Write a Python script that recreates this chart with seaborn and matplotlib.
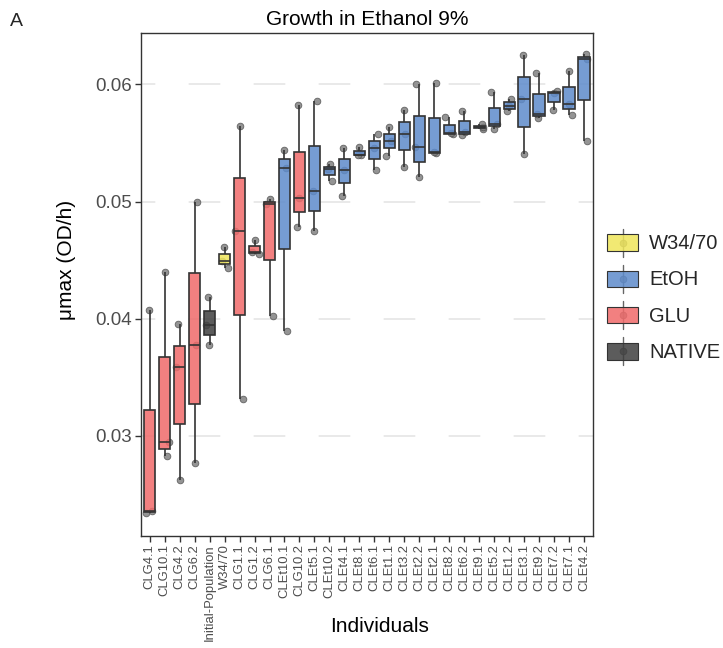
import numpy as np
import pandas as pd
import matplotlib
matplotlib.use("Agg")
import matplotlib.pyplot as plt
from matplotlib.legend_handler import HandlerBase
from matplotlib.patches import Rectangle, Patch
from matplotlib.lines import Line2D
import seaborn as sns

# Individuals in plotting order, with the population each one comes from
individuals = [
    "CLG4.1", "CLG10.1", "CLG4.2", "CLG6.2", "Initial-Population", "W34/70",
    "CLG1.1", "CLG1.2", "CLG6.1", "CLEt10.1", "CLG10.2", "CLEt5.1",
    "CLEt10.2", "CLEt4.1", "CLEt8.1", "CLEt6.1", "CLEt1.1", "CLEt3.2",
    "CLEt2.2", "CLEt2.1", "CLEt8.2", "CLEt6.2", "CLEt9.1", "CLEt5.2",
    "CLEt1.2", "CLEt3.1", "CLEt9.2", "CLEt7.2", "CLEt7.1", "CLEt4.2",
]
groups = [
    "GLU", "GLU", "GLU", "GLU", "NATIVE", "W34/70",
    "GLU", "GLU", "GLU", "EtOH", "GLU", "EtOH",
    "EtOH", "EtOH", "EtOH", "EtOH", "EtOH", "EtOH",
    "EtOH", "EtOH", "EtOH", "EtOH", "EtOH", "EtOH",
    "EtOH", "EtOH", "EtOH", "EtOH", "EtOH", "EtOH",
]

# Maximum growth rate (OD/h) of the three replicate cultures
rep_1 = [0.02345, 0.02826, 0.02621, 0.02766, 0.03778, 0.04435,
         0.03312, 0.04552, 0.04020, 0.03898, 0.04785, 0.04748,
         0.05175, 0.05044, 0.05397, 0.05270, 0.05390, 0.05294,
         0.05209, 0.05414, 0.05573, 0.05565, 0.05616, 0.05621,
         0.05770, 0.05403, 0.05710, 0.05781, 0.05741, 0.05519]
rep_2 = [0.02362, 0.02945, 0.03585, 0.03778, 0.03950, 0.04490,
         0.04751, 0.04572, 0.04980, 0.05285, 0.05030, 0.05090,
         0.05275, 0.05270, 0.05400, 0.05460, 0.05519, 0.05580,
         0.05462, 0.05420, 0.05587, 0.05592, 0.05636, 0.05661,
         0.05817, 0.05872, 0.05747, 0.05923, 0.05830, 0.06213]
rep_3 = [0.04074, 0.04396, 0.03952, 0.04998, 0.04182, 0.04612,
         0.05647, 0.04671, 0.05020, 0.05439, 0.05821, 0.05858,
         0.05320, 0.05454, 0.05468, 0.05578, 0.05636, 0.05778,
         0.06003, 0.06009, 0.05718, 0.05776, 0.05659, 0.05932,
         0.05877, 0.06247, 0.06094, 0.05945, 0.06116, 0.06256]

group_order = ["W34/70", "EtOH", "GLU", "NATIVE"]
group_colors = {"W34/70": "#EFE65A", "EtOH": "#5E8BCB",
                "GLU": "#F06A6A", "NATIVE": "#3F3F3F"}
y_ticks = [0.03, 0.04, 0.05, 0.06]

wide = pd.DataFrame({"Individual": individuals, "Group": groups,
                     "r1": rep_1, "r2": rep_2, "r3": rep_3})
df = wide.melt(id_vars=["Individual", "Group"], value_name="umax")

sns.set_theme(style="white")
plt.rcParams["font.family"] = ["Liberation Sans", "DejaVu Sans"]
plt.rcParams["lines.scale_dashes"] = False

W, H = 723, 648
fig = plt.figure(figsize=(W / 100, H / 100), dpi=100)
left, right, top, bottom = 140.7, 593.0, 33.0, 535.7
ax = fig.add_axes([left / W, 1 - bottom / H, (right - left) / W, (bottom - top) / H])

# replicate points sit underneath the translucent boxes
np.random.seed(7)
sns.stripplot(data=df, x="Individual", y="umax", order=individuals,
              color="#7a7a7a", size=4.8, jitter=0.3, alpha=0.8,
              edgecolor="#4d4d4d", linewidth=0.6, zorder=1.5, ax=ax)
sns.boxplot(data=df, x="Individual", y="umax", order=individuals,
            hue="Group", hue_order=group_order, palette=group_colors,
            saturation=1, dodge=False, width=0.75, linecolor="#333333",
            linewidth=1.2, showfliers=False, showcaps=False, legend=False,
            ax=ax)
for p in ax.patches:
    fc = p.get_facecolor()
    p.set_facecolor((fc[0], fc[1], fc[2], 0.85))
    p.set_zorder(2)

ax.set_xlim(-0.6, len(individuals) - 0.4)
ax.set_ylim(0.02148, 0.06438)
ax.set_yticks(y_ticks)
ax.set_yticklabels([f"{t:.2f}" for t in y_ticks])

ax.set_axisbelow(True)
ax.yaxis.grid(True, color="#E3E3E3", linewidth=1.1,
              linestyle=(12.5, (22.8, 24.0)))
ax.xaxis.grid(False)
for s in ax.spines.values():
    s.set_visible(True)
    s.set_color("#333333")
    s.set_linewidth(1.0)

ax.tick_params(axis="both", direction="out", length=4, width=1.0,
               color="#333333", labelcolor="#4D4D4D", left=True, bottom=True)
ax.tick_params(axis="y", labelsize=13.5, pad=2)
ax.tick_params(axis="x", labelsize=9.4, pad=2, labelrotation=90)

ax.set_title("Growth in Ethanol 9%", fontsize=15, pad=6, color="black")
ax.set_xlabel("Individuals", fontsize=15, color="black")
ax.set_ylabel("\u03bcmax (OD/h)", fontsize=15, color="black")
ax.xaxis.set_label_coords((380 - left) / (right - left), (bottom - 616.5) / (bottom - top))
ax.yaxis.set_label_coords((76 - left) / (right - left), (bottom - 260) / (bottom - top))

fig.text(10 / W, 1 - 22 / H, "A", fontsize=14, va="center", ha="left")


class BoxKey(HandlerBase):
    """Legend key drawn as a small box with whisker and a point."""

    def create_artists(self, legend, orig_handle, xdescent, ydescent,
                       width, height, fontsize, trans):
        fc = orig_handle.get_facecolor()
        x0, y0 = -xdescent, -ydescent
        cx, cy = x0 + width / 2, y0 + height / 2
        bh = height * 0.6
        whisker = Line2D([cx, cx], [y0, y0 + height], color="#666666", lw=1.0)
        dot = Line2D([cx], [cy], marker="o", ms=4.8, mfc="#7a7a7a",
                     mec="#4d4d4d", mew=0.6, alpha=0.8, ls="none")
        box = Rectangle((x0, cy - bh / 2), width, bh,
                        facecolor=(fc[0], fc[1], fc[2], 0.85),
                        edgecolor="#333333", lw=0.8)
        for a in (whisker, dot, box):
            a.set_transform(trans)
        return [whisker, dot, box]


handles = [Patch(facecolor=group_colors[g]) for g in group_order]
fig.legend(handles, group_order, loc="center left",
           bbox_to_anchor=(607 / W, 1 - 297 / H), frameon=False,
           fontsize=14.5, handlelength=1.55, handleheight=1.75,
           handletextpad=0.55, labelspacing=0.41, borderpad=0,
           borderaxespad=0, handler_map={Patch: BoxKey()})

fig.savefig("out.png", dpi=100)
